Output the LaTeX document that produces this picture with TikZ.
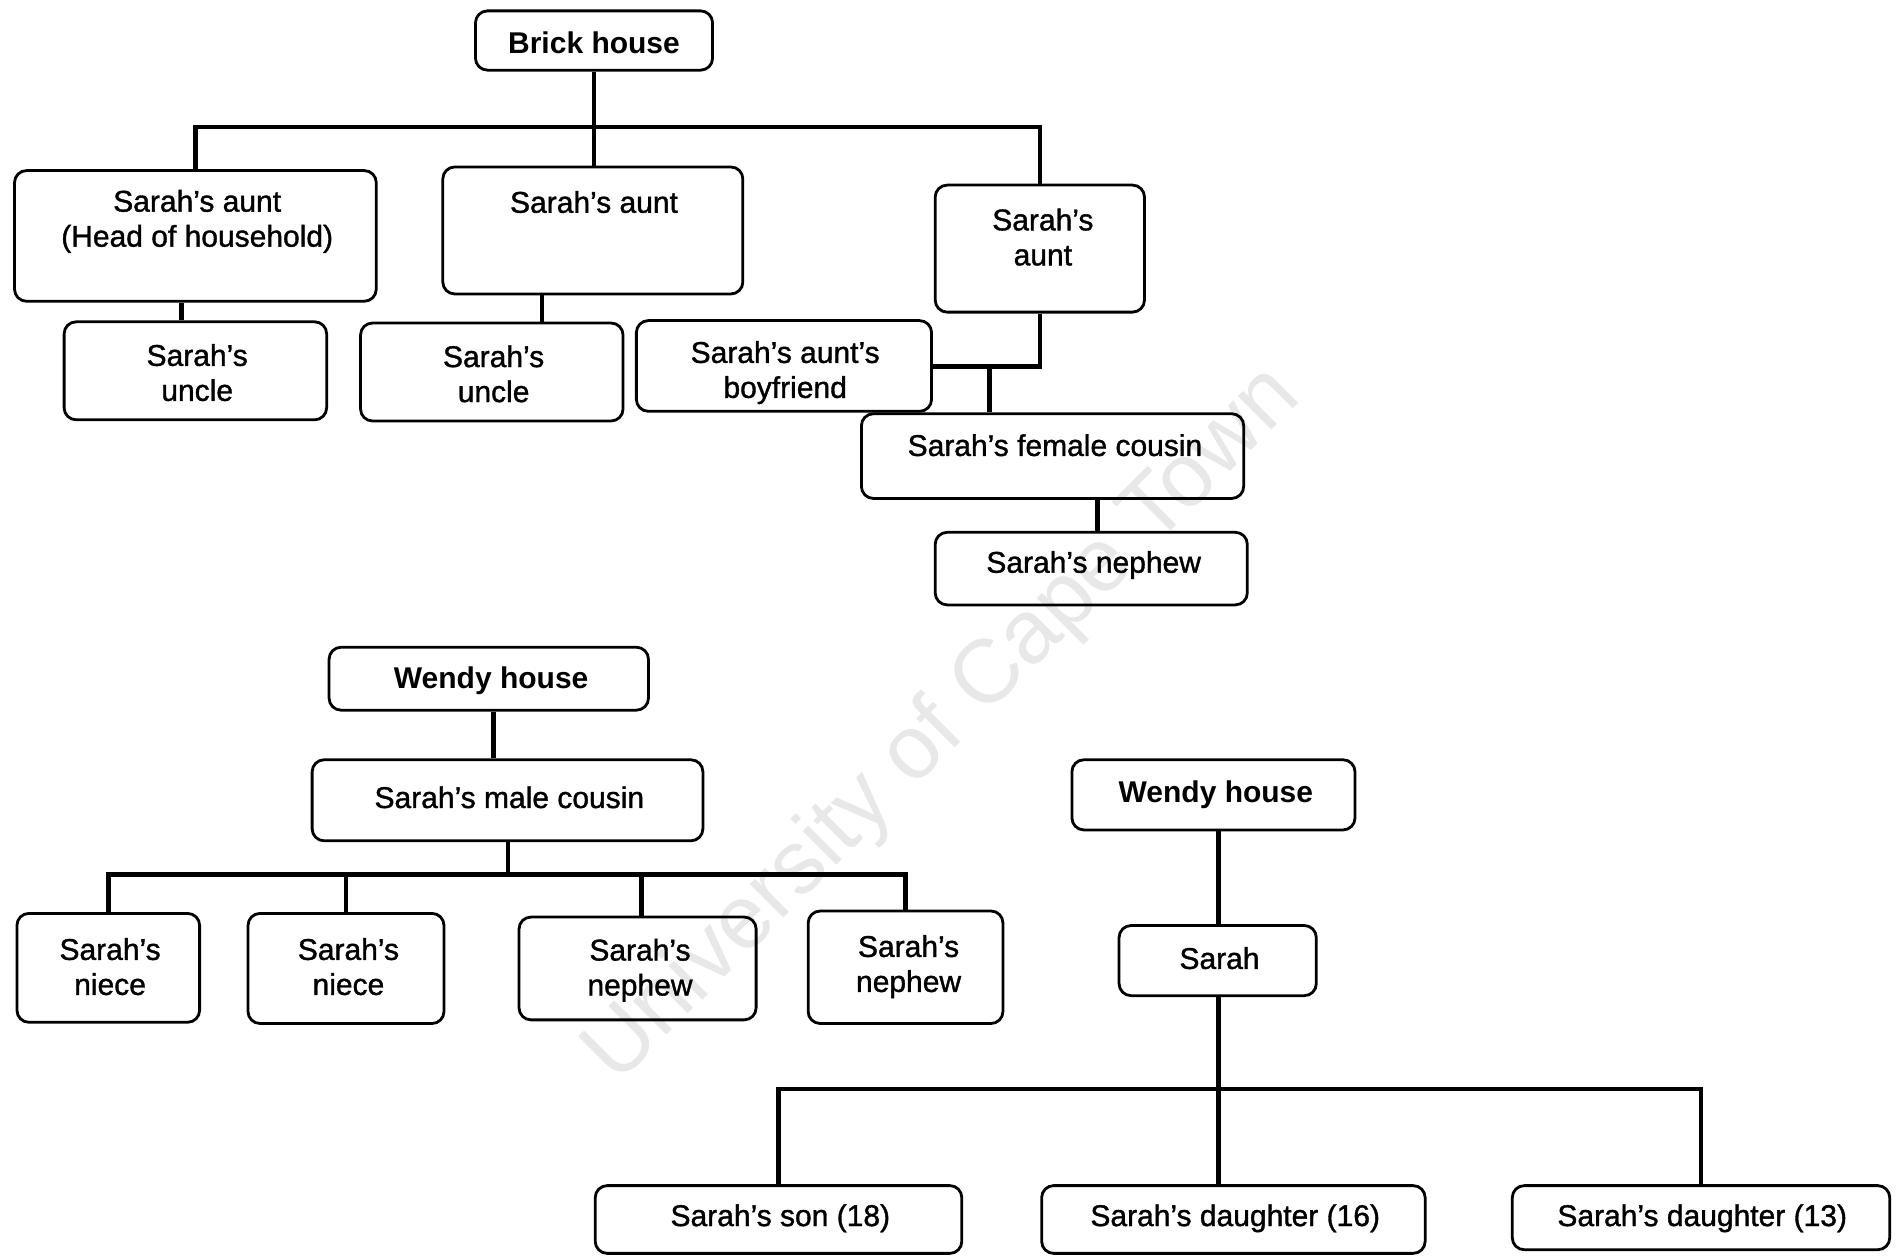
\documentclass[tikz,border=0pt]{standalone}
\usepackage{fontspec}
\setmainfont{Liberation Sans}
\newfontfamily\heavyfont[FakeBold=1.2]{Liberation Sans}
\usetikzlibrary{fit,calc}
\begin{document}
\begin{tikzpicture}[x=0.6049pt,y=-0.6049pt,
  box/.style={draw, line width=1.4pt, rounded corners=6pt, inner sep=0pt},
  txt/.style={align=center, font=\heavyfont\fontsize{15}{17.5}\selectfont, inner sep=0pt},
  ttl/.style={align=center, font=\fontsize{15}{17.5}\selectfont\bfseries, inner sep=0pt},
  conn/.style={line width=2.3pt},
  wmark/.style={rotate=45, text=black!9, font=\fontsize{45}{45}\selectfont, inner sep=0pt}]
\useasboundingbox (0,0) rectangle (1568,1038);

% watermark
\node[wmark] (wm) at (780,600) {University of Cape Town};

% ---------- Brick house ----------
\node[box, fit={(393,9) (589,58)}] (brick) {};
\node[ttl] (brickT) at (491,35) {Brick house};

\node[box, fit={(12,141) (311,249)}] (aunt1) {};
\node[txt] (aunt1T) at (163,183) {Sarah’s aunt\\(Head of household)};
\node[box, fit={(366,138) (614,243)}] (aunt2) {};
\node[txt] (aunt2T) at (491,167) {Sarah’s aunt};
\node[box, fit={(773,153) (946,258)}] (aunt3) {};
\node[txt] (aunt3T) at (862,196) {Sarah’s\\aunt};

\node[box, fit={(53,266) (270,347)}] (uncle1) {};
\node[txt] (uncle1T) at (163,308) {Sarah’s\\uncle};
\node[box, fit={(298,267) (515,348)}] (uncle2) {};
\node[txt] (uncle2T) at (408,309) {Sarah’s\\uncle};
\node[box, fit={(526,265) (770,340)}] (boyf) {};
\node[txt] (boyfT) at (649,308) {Sarah’s aunt’s\\boyfriend};

\node[box, fit={(712,342) (1028,412)}] (cousF) {};
\node[txt] (cousFT) at (872,368) {Sarah’s female cousin};
\node[box, fit={(773,440) (1031,500)}] (nephT) {};
\node[txt] (nephTT) at (904,467) {Sarah’s nephew};

\coordinate (jb) at (491,105);
\draw[conn] (brick.south) -- (jb);
\draw[conn] (aunt1.north) |- (jb) -| (aunt3.north);
\draw[conn] (jb) -- (jb |- aunt2.north);
\coordinate (u1) at (150,0);
\draw[conn] (u1 |- aunt1.south) -- (u1 |- uncle1.north);
\coordinate (u2) at (448,0);
\draw[conn] (u2 |- aunt2.south) -- (u2 |- uncle2.north);
\coordinate (jc) at (860,303);
\draw[conn] (aunt3.south) |- (boyf.east |- jc);
\coordinate (jd) at (818,303);
\draw[conn] (jd) -- (jd |- cousF.north);
\coordinate (jn) at (907,0);
\draw[conn] (jn |- cousF.south) -- (jn |- nephT.north);

% ---------- Wendy house 1 ----------
\node[box, fit={(272,535) (536,587)}] (wendy1) {};
\node[ttl] (wendy1T) at (406,563) {Wendy house};
\node[box, fit={(258,628) (581,695)}] (mcous) {};
\node[txt] (mcousT) at (421,659) {Sarah’s male cousin};

\node[box, fit={(14,755) (165,845)}] (niece1) {};
\node[txt] (niece1T) at (91,799) {Sarah’s\\niece};
\node[box, fit={(205,755) (367,846)}] (niece2) {};
\node[txt] (niece2T) at (288,799) {Sarah’s\\niece};
\node[box, fit={(429,758) (625,843)}] (neph1) {};
\node[txt] (neph1T) at (529,802) {Sarah’s\\nephew};
\node[box, fit={(668,753) (829,846)}] (neph2) {};
\node[txt] (neph2T) at (751,799) {Sarah’s\\nephew};

\coordinate (w1) at (408,0);
\draw[conn] (w1 |- wendy1.south) -- (w1 |- mcous.north);
\coordinate (jm) at (420,723);
\draw[conn] (jm |- mcous.south) -- (jm);
\draw[conn] (niece1.north) |- (jm) -| (neph2.north);
\draw[conn] (niece2.north) -- (niece2.north |- jm);
\coordinate (n1) at (530,0);
\draw[conn] (n1 |- jm) -- (n1 |- neph1.north);

% ---------- Wendy house 2 ----------
\node[box, fit={(886,628) (1120,686)}] (wendy2) {};
\node[ttl] (wendy2T) at (1005,657) {Wendy house};
\node[box, fit={(925,765) (1088,823)}] (sarah) {};
\node[txt] (sarahT) at (1008,792) {Sarah};

\node[box, fit={(492,980) (795,1036)}] (son) {};
\node[txt] (sonT) at (645,1007) {Sarah’s son (18)};
\node[box, fit={(861,980) (1178,1036)}] (d16) {};
\node[txt] (d16T) at (1021,1007) {Sarah’s daughter (16)};
\node[box, fit={(1250,980) (1562,1033)}] (d13) {};
\node[txt] (d13T) at (1407,1007) {Sarah’s daughter (13)};

\coordinate (s) at (1007,0);
\draw[conn] (s |- wendy2.south) -- (s |- sarah.north);
\draw[conn] (s |- sarah.south) -- (s |- d16.north);
\coordinate (js) at (1007,900);
\draw[conn] (son.north) |- (js) -| (d13.north);
\end{tikzpicture}
\end{document}
